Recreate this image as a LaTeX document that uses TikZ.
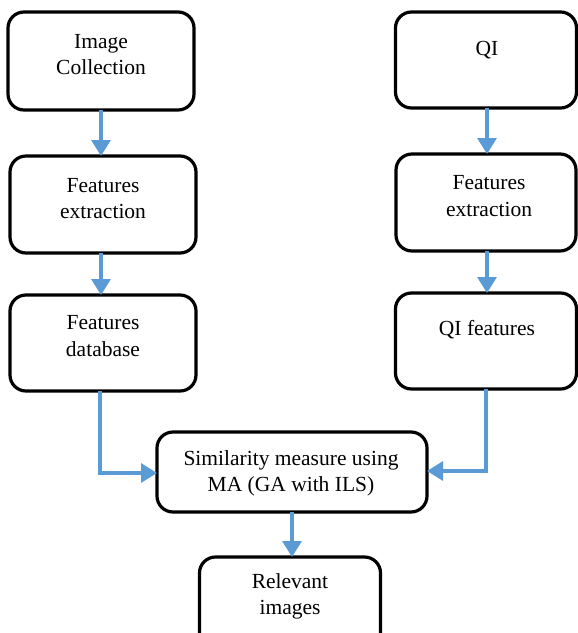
\documentclass[tikz,border=0pt]{standalone}
\usepackage{fontspec}
\setmainfont{Liberation Serif}
\usetikzlibrary{arrows.meta,calc}
\definecolor{arrowblue}{HTML}{5B9BD5}
\begin{document}
\begin{tikzpicture}[x=1pt,y=-1pt,
  box/.style={draw=black,line width=3.2pt,rounded corners=16pt,inner sep=0pt,outer sep=0pt},
  txt/.style={align=center,inner sep=0pt,font=\fontsize{21.5}{26.5}\selectfont},
  conn/.style={draw=arrowblue,line width=3.2pt,-{Triangle[width=19pt,length=16pt]}}]
\useasboundingbox (0,0) rectangle (578,633);
% boxes
\node[box,minimum width=186pt,minimum height=98pt] (ic) at (101,61) {};
\node[box,minimum width=181pt,minimum height=96pt] (qi) at (486,60) {};
\node[box,minimum width=186pt,minimum height=97pt] (fel) at (103,204.5) {};
\node[box,minimum width=180pt,minimum height=97pt] (fer) at (486,202.5) {};
\node[box,minimum width=186pt,minimum height=96pt] (fd) at (103,343) {};
\node[box,minimum width=181pt,minimum height=96pt] (qif) at (486,341) {};
\node[box,minimum width=270pt,minimum height=80pt] (sim) at (292,472) {};
\node[box,minimum width=181pt,minimum height=100pt] (rel) at (290,607) {};
% texts
\node[txt] (tic) at (101,54.5) {Image\\Collection};
\node[txt] (tqi) at (487,50) {QI};
\node[txt] (tfel) at (103,198.5) {Features\\extraction};
\node[txt] (tfer) at (489,196) {Features\\extraction};
\node[txt] (tfd) at (103,336) {Features\\database};
\node[txt] (tqif) at (487,330) {QI features};
\node[txt] (tsim) at (291,473.5) {Similarity measure using\\MA (GA with ILS)};
\node[txt] (trel) at (290,596.5) {Relevant\\images};
% connectors
\draw[conn] (ic.south -| 101,0) -- (fel.north -| 101,0);
\draw[conn] (fel.south -| 101,0) -- (fd.north -| 101,0);
\draw[conn] (qi.south -| 487,0) -- (fer.north -| 487,0);
\draw[conn] (fer.south -| 487,0) -- (qif.north -| 487,0);
\draw[conn] (fd.south -| 100,0) |- (sim.west |- 0,473);
\draw[conn] (qif.south -| 486,0) |- (sim.east |- 0,471);
\draw[conn] (sim.south -| 292,0) -- (rel.north -| 292,0);
\end{tikzpicture}
\end{document}
